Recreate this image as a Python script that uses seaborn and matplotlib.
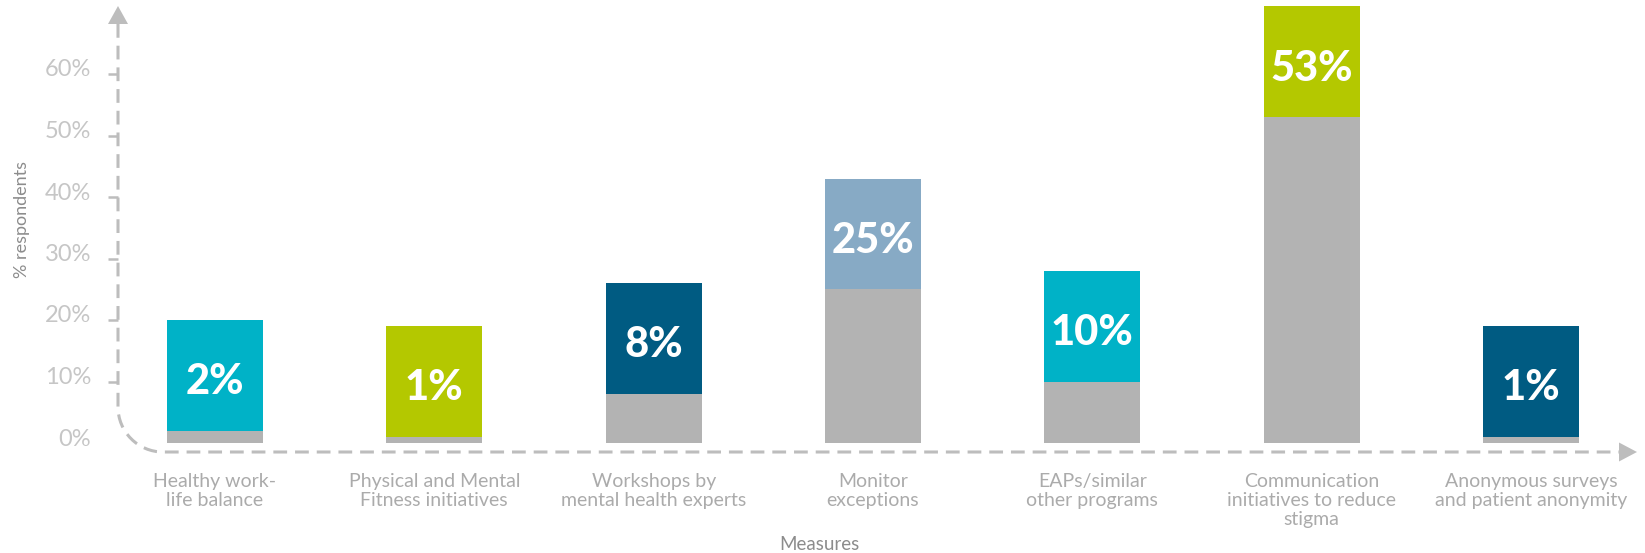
import matplotlib
matplotlib.use("Agg")
import matplotlib.pyplot as plt
import matplotlib.transforms as mtransforms
from matplotlib.path import Path
from matplotlib.patches import PathPatch, Polygon
import seaborn as sns
import pandas as pd

# ---- data -------------------------------------------------------------
measures = [
    "Healthy work-\nlife balance",
    "Physical and Mental\nFitness initiatives",
    "Workshops by\nmental health experts",
    "Monitor\nexceptions",
    "EAPs/similar\nother programs",
    "Communication\ninitiatives to reduce\nstigma",
    "Anonymous surveys\nand patient anonymity",
]
values = [2, 1, 8, 25, 10, 53, 1]
box_colors = ["#00B2C7", "#B4C800", "#005B82", "#87AAC5", "#00B2C7", "#B4C800", "#005B82"]
y_ticks = [0, 10, 20, 30, 40, 50, 60]
y_tick_labels = ["0%", "10%", "20%", "30%", "40%", "50%", "60%"]

BOX = 18          # height of the coloured label box stacked on each bar
BAR_GREY = "#B3B3B3"
AXIS_GREY = "#BDBDBD"

df = pd.DataFrame({"measure": measures, "value": values})
df["total"] = df["value"] + BOX

# ---- figure -----------------------------------------------------------
W, H, DPI = 1645, 553, 100
sns.set_theme(style="white")
plt.rcParams["font.family"] = ["Lato", "DejaVu Sans"]

fig = plt.figure(figsize=(W / DPI, H / DPI), dpi=DPI)
ax_l, ax_r, ax_t, ax_b = 118, 1637, 6, 452   # axes box in pixels (from top-left)
ax = fig.add_axes([ax_l / W, (H - ax_b) / H, (ax_r - ax_l) / W, (ax_b - ax_t) / H])
ax.patch.set_alpha(0)

bar_w = 0.4377
sns.barplot(data=df, x="measure", y="total", hue="measure", palette=box_colors,
            width=bar_w, saturation=1, legend=False, linewidth=0, ax=ax, zorder=2)
sns.barplot(data=df, x="measure", y="value", color=BAR_GREY,
            width=bar_w, saturation=1, linewidth=0, ax=ax, zorder=3)

px_per_unit = 6.15
zero_px = 443
ax.set_xlim(-0.442, 6.483)
ax.set_ylim((zero_px - ax_b) / px_per_unit, (zero_px - ax_t) / px_per_unit)
for s in ax.spines.values():
    s.set_visible(False)

# value labels inside the coloured boxes
lbl_tr = mtransforms.offset_copy(ax.transData, fig=fig, x=0, y=-7, units="dots")
for i, v in enumerate(values):
    ax.text(i, v + BOX / 2, f"{v}%", transform=lbl_tr, ha="center", va="center",
            color="white", fontsize=30, fontweight="black", zorder=5)

# ticks and labels
ax.set_yticks(y_ticks, y_tick_labels)
ax.tick_params(axis="y", direction="out", length=7.2, width=1.8, color=AXIS_GREY,
               labelsize=17, labelcolor="#C6C6C6", pad=12, left=True)
ax.yaxis.get_major_ticks()[0].tick1line.set_visible(False)
up = mtransforms.ScaledTranslation(0, 6 / DPI, fig.dpi_scale_trans)
for t in ax.get_yticklabels():
    t.set_transform(t.get_transform() + up)

ax.set_xticks(range(len(measures)), measures)
ax.tick_params(axis="x", length=0, labelsize=14, labelcolor="#ABABAB", pad=15)
for t in ax.get_xticklabels():
    t.set_linespacing(1.15)

aw, ah = ax_r - ax_l, ax_b - ax_t
ax.set_xlabel("Measures", fontsize=13.5, color="#8C8C8C", va="baseline", ha="center")
ax.xaxis.set_label_coords((819.5 - ax_l) / aw, (ax_b - 550) / ah)
ax.set_ylabel("% respondents", fontsize=13, color="#8C8C8C", va="center", ha="center")
ax.yaxis.set_label_coords((21.8 - ax_l) / aw, (ax_b - 219) / ah)

# dashed axis line with a rounded corner and arrowheads
rx, ry = 45 / aw, 45 / ah
k = 0.5523
verts = [(0, 1 - 18 / ah), (0, ry),
         (0, ry * (1 - k)), (rx * (1 - k), 0), (rx, 0),
         (1 - 18 / aw, 0)]
codes = [Path.MOVETO, Path.LINETO, Path.CURVE4, Path.CURVE4, Path.CURVE4, Path.LINETO]
ax.add_patch(PathPatch(Path(verts, codes), transform=ax.transAxes, fill=False,
                       edgecolor=AXIS_GREY, lw=2.2, linestyle=(0, (4.5, 2.6)),
                       clip_on=False, zorder=1))
ax.add_patch(Polygon([(0, 1), (-10 / aw, 1 - 18 / ah), (10 / aw, 1 - 18 / ah)],
                     closed=True, transform=ax.transAxes, facecolor=AXIS_GREY,
                     edgecolor="none", clip_on=False, zorder=1))
ax.add_patch(Polygon([(1, 0), (1 - 18 / aw, 9.5 / ah), (1 - 18 / aw, -9.5 / ah)],
                     closed=True, transform=ax.transAxes, facecolor=AXIS_GREY,
                     edgecolor="none", clip_on=False, zorder=1))

fig.savefig("out.png", dpi=DPI, facecolor="white")
